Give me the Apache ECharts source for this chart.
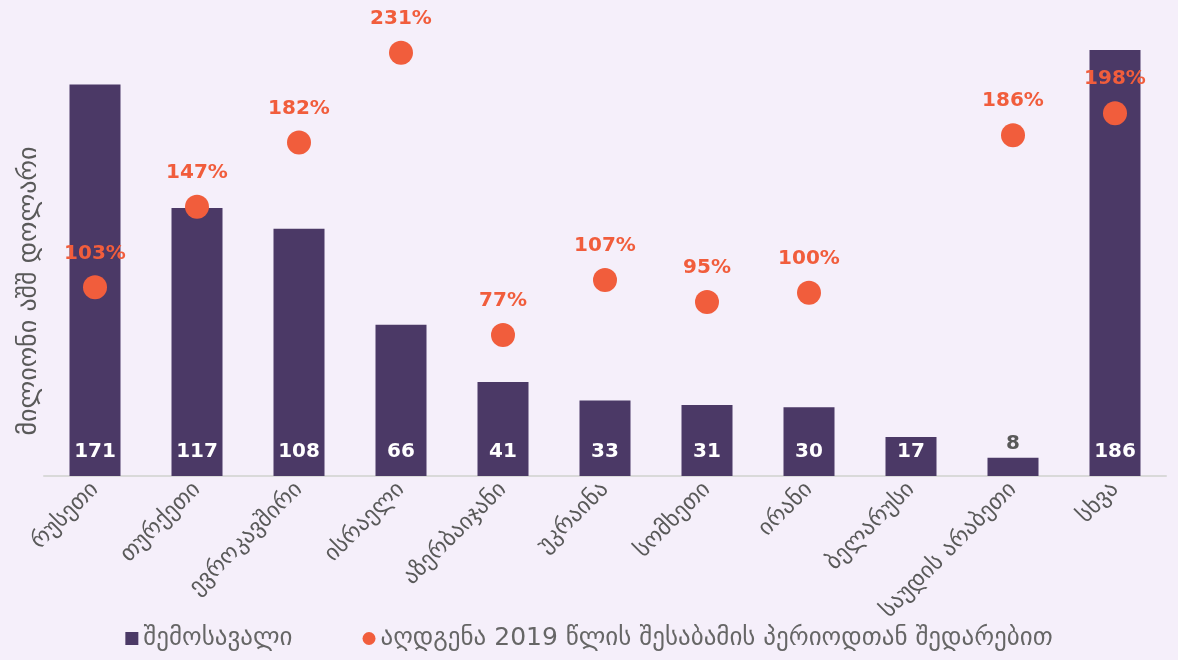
<!DOCTYPE html>
<html>
<head>
<meta charset="utf-8">
<script src="https://cdn.jsdelivr.net/npm/echarts@6/dist/echarts.min.js"></script>
<style>
  html, body { margin: 0; padding: 0; background: #F5EFFA; }
  #chart { width: 1178px; height: 660px; }
</style>
</head>
<body>
<div id="chart"></div>
<script>
// ქვეყნები
var countries = ['რუსეთი', 'თურქეთი', 'ევროკავშირი', 'ისრაელი', 'აზერბაიჯანი', 'უკრაინა',
    'სომხეთი', 'ირანი', 'ბელარუსი', 'საუდის არაბეთი', 'სხვა'];
// შემოსავალი, მლნ აშშ დოლარი
var revenue = [171, 117, 108, 66, 41, 33, 31, 30, 17, 8, 186];
// აღდგენა 2019 წლის შესაბამის პერიოდთან შედარებით, %
var recovery = [103, 147, 182, 231, 77, 107, 95, 100, null, 186, 198];

var font = 'DejaVu Sans';
var barColor = '#4B3966';
var dotColor = '#F15D3C';

// პატარა სვეტზე (8) წარწერა გარეთ ჩანს, ნაცრისფრად
var barData = revenue.map(function (v) {
    if (v < 10) {
        return { value: v, label: { position: 'top', color: '#595959', distance: 4 } };
    }
    return v;
});

var myChart = echarts.init(document.getElementById('chart'));
var option = {
    backgroundColor: '#F5EFFA',
    textStyle: { fontFamily: font },
    grid: { left: 44, right: 12, top: 18, bottom: 184, containLabel: false },
    legend: {
        bottom: 4,
        left: 'center',
        itemGap: 70,
        itemWidth: 13,
        itemHeight: 13,
        textStyle: { fontFamily: font, fontSize: 25, color: '#666666' },
        data: [
            { name: 'შემოსავალი', icon: 'rect' },
            { name: 'აღდგენა 2019 წლის შესაბამის პერიოდთან შედარებით', icon: 'circle' }
        ]
    },
    xAxis: {
        type: 'category',
        data: countries,
        axisLine: { lineStyle: { color: '#D9D9D9', width: 2 } },
        axisTick: { show: false },
        axisLabel: { rotate: 45, fontSize: 23, color: '#595959', margin: 10, fontFamily: font, interval: 0 }
    },
    yAxis: [
        { type: 'value', min: 0, max: 200, show: false, splitLine: { show: false } },
        { type: 'value', min: 0, max: 250, show: false, splitLine: { show: false } }
    ],
    graphic: [{
        type: 'text',
        x: 29,
        y: 291,
        rotation: Math.PI / 2,
        style: {
            text: 'მილიონი აშშ დოლარი',
            fill: '#595959',
            font: '26px "DejaVu Sans"',
            textAlign: 'center',
            textVerticalAlign: 'middle'
        }
    }],
    series: [
        {
            name: 'შემოსავალი',
            type: 'bar',
            barWidth: '50%',
            data: barData,
            itemStyle: { color: barColor },
            label: {
                show: true,
                position: 'insideBottom',
                distance: 14,
                color: '#ffffff',
                fontWeight: 'bold',
                fontSize: 20,
                fontFamily: font
            }
        },
        {
            name: 'აღდგენა 2019 წლის შესაბამის პერიოდთან შედარებით',
            type: 'scatter',
            yAxisIndex: 1,
            symbol: 'circle',
            symbolSize: 24,
            data: recovery,
            itemStyle: { color: dotColor, opacity: 1 },
            label: {
                show: true,
                position: 'top',
                distance: 12,
                color: dotColor,
                fontWeight: 'bold',
                fontSize: 20,
                fontFamily: font,
                formatter: function (p) { return p.value + '%'; }
            }
        }
    ]
};
option && myChart.setOption(option);
</script>
</body>
</html>
